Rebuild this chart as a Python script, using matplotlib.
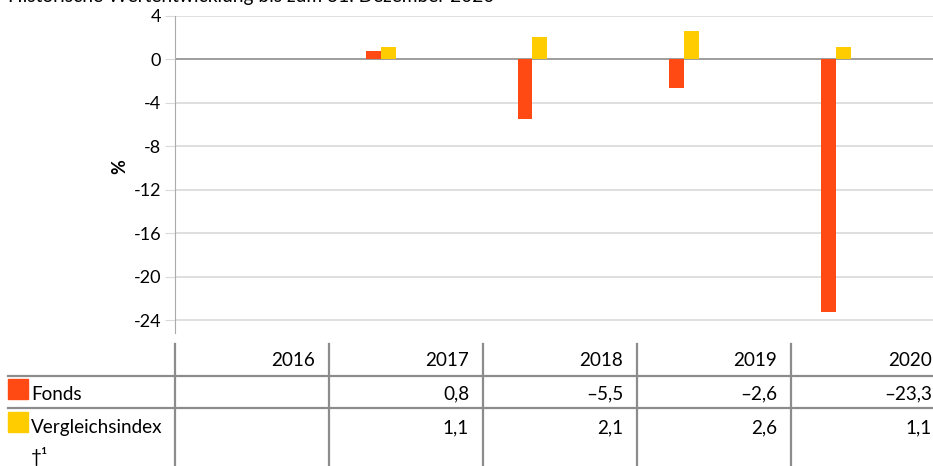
import matplotlib
matplotlib.use('Agg')
import matplotlib.pyplot as plt
from matplotlib.patches import Rectangle
from matplotlib.lines import Line2D
import numpy as np

years = ['2016', '2017', '2018', '2019', '2020']
fonds = [None, 0.8, -5.5, -2.6, -23.3]
index = [None, 1.1, 2.1, 2.6, 1.1]
fonds_txt = ['', '0,8', '-5,5', '-2,6', '-23,3']
index_txt = ['', '1,1', '2,1', '2,6', '1,1']
yticks = [4, 0, -4, -8, -12, -16, -20, -24]

W, H = 933, 466
red = '#ff4a14'
yellow = '#ffcc00'
linecol = '#8c8c8c'
plt.rcParams['font.family'] = ['Lato', 'DejaVu Sans']

fig = plt.figure(figsize=(W / 100, H / 100), dpi=100)

def fx(px):
    return px / W

def fy(py):
    return 1 - py / H

# chart area
ax = fig.add_axes([fx(175), fy(333), fx(933) - fx(175), fy(16) - fy(333)])
ylo = -24 - 13 / (43.5 / 4)
ax.set_ylim(ylo, 4)
ax.set_xlim(-0.356, 4.64)

x = np.arange(len(years))
w = 0.098
for i in range(len(years)):
    if fonds[i] is not None:
        ax.bar(x[i] - w / 2, fonds[i], w, color=red, zorder=3)
    if index[i] is not None:
        ax.bar(x[i] + w / 2, index[i], w, color=yellow, zorder=3)

ax.set_yticks(yticks)
ax.set_yticklabels([str(t) for t in yticks], fontsize=13)
ax.set_xticks([])
ax.grid(axis='y', color='#d9d9d9', lw=1.2, zorder=0)
ax.axhline(0, color='#999999', lw=1.3, zorder=2)
for s in ('top', 'right', 'bottom'):
    ax.spines[s].set_visible(False)
ax.spines['left'].set_color('#aaaaaa')
ax.tick_params(axis='y', length=7, color='#d9d9d9', pad=3)
ax.set_ylabel('%', fontsize=13, fontweight='bold', labelpad=-4)
ax.yaxis.set_label_coords(-(175 - 128) / (933 - 175), (333 - 167) / (333 - 16))

# cut-off title at the top
fig.text(fx(8), fy(2), 'Historische Wertentwicklung bis zum 31. Dezember 2020',
         fontsize=13.8, va='baseline', ha='left')

# table below
col_edges = [175 + 154 * i for i in range(len(years))]
for cx in col_edges:
    fig.add_artist(Line2D([fx(cx), fx(cx)], [fy(344), fy(466)], color=linecol, lw=1.6))
for ry in (376, 408):
    fig.add_artist(Line2D([fx(8), fx(933)], [fy(ry), fy(ry)], color=linecol, lw=1.6))

fs = 13.6
for i, yr in enumerate(years):
    right = col_edges[i + 1] - 14 if i + 1 < len(col_edges) else 932
    fig.text(fx(right), fy(361), yr, fontsize=fs, ha='right', va='center')
    fig.text(fx(right), fy(394), fonds_txt[i].replace('-', '\u2013'), fontsize=fs, ha='right', va='center')
    fig.text(fx(right), fy(428), index_txt[i], fontsize=fs, ha='right', va='center')

fig.add_artist(Rectangle((fx(8), fy(399)), fx(28) - fx(8), fy(379) - fy(399), color=red))
fig.add_artist(Rectangle((fx(8), fy(432)), fx(28) - fx(8), fy(412) - fy(432), color=yellow))
fig.text(fx(31), fy(394), 'Fonds', fontsize=fs, ha='left', va='center')
fig.text(fx(31), fy(428), 'Vergleichsindex', fontsize=fs, ha='left', va='center')
fig.text(fx(31), fy(456), '\u2020\u00b9', fontsize=fs, ha='left', va='center')

fig.savefig('out.png', dpi=100)
